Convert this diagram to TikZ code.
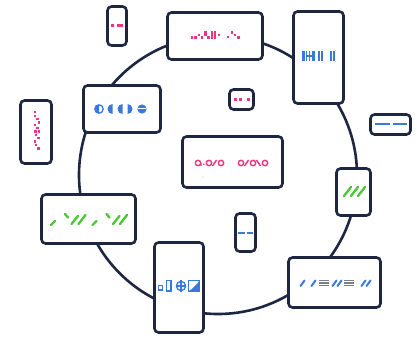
\documentclass[tikz,border=0pt]{standalone}
\usepackage{tikz}
\definecolor{navy}{RGB}{30,38,66}
\definecolor{pinkc}{RGB}{236,52,128}
\definecolor{bluec}{RGB}{58,120,220}
\definecolor{greenc}{RGB}{78,200,58}
\definecolor{grayc}{RGB}{120,126,136}
\begin{document}
\begin{tikzpicture}[x=1pt,y=-1pt,
  box/.style={draw=navy,line width=2.6pt,rounded corners=4pt,fill=white,inner sep=0pt},
  ringst/.style={circle,draw=navy,line width=2.6pt,inner sep=0pt,minimum size=278pt},
  pdot/.style={fill=pinkc},
  bstroke/.style={draw=bluec,line width=1.3pt},
  gslash/.style={draw=greenc,line width=2.4pt,line cap=round},
  bslash/.style={draw=bluec,line width=2pt,line cap=round},
  gbar/.style={draw=grayc,line width=1.1pt}]
\useasboundingbox (0,0) rectangle (417,339);
\fill[white] (0,0) rectangle (417,339);
% ring
\node[ringst] (ring) at (218,175) {};
% boxes
\node[box,minimum width=19pt,minimum height=39pt] (b1) at (117,26) {};
\node[box,minimum width=95pt,minimum height=47pt] (b2) at (215,36) {};
\node[box,minimum width=50pt,minimum height=92pt] (b3) at (318.5,57.5) {};
\node[box,minimum width=77pt,minimum height=47pt] (b4) at (122,109) {};
\node[box,minimum width=31pt,minimum height=63pt] (b5) at (36,132) {};
\node[box,minimum width=24pt,minimum height=20pt] (b6) at (241.5,99.5) {};
\node[box,minimum width=40pt,minimum height=20pt] (b7) at (390.5,124.5) {};
\node[box,minimum width=100pt,minimum height=51pt] (b8) at (232.5,162) {};
\node[box,minimum width=34pt,minimum height=47pt] (b9) at (353.5,192) {};
\node[box,minimum width=94pt,minimum height=49pt] (b10) at (88.5,219) {};
\node[box,minimum width=20pt,minimum height=38pt] (b11) at (245.5,232.5) {};
\node[box,minimum width=49pt,minimum height=90pt] (b12) at (179,287.5) {};
\node[box,minimum width=92pt,minimum height=50pt] (b13) at (334.5,282.5) {};
% glyphs b1
\fill[pdot] (111,24) rectangle (114,26.6);
\fill[pdot] (117,24) rectangle (123,26.6);
% glyphs b2 (dot pattern)
\foreach \x/\y in {192/37.5,195.5/37.5,199/35,202/37.5,205.5/32.5,205.5/35,208.5/37.5,212/32.5,212/35,212/37.5,215/32.5,215/35,215/37.5,219/35,228/37,232/32.5,235/35,238.5/37.5}
  \fill[pdot] (\x-1.3,\y-1.3) rectangle ++(2.6,2.6);
% glyphs b3 (blue bars)
\fill[bluec] (302,51) rectangle (305,61);
\fill[bluec] (306,51) rectangle (307.2,61);
\fill[bluec] (309,51) rectangle (310.2,61);
\draw[bluec,line width=1.2pt] (307,56) -- (312,56);
\fill[bluec] (312,51) rectangle (315,61);
\fill[bluec] (317.5,51) rectangle (319.5,61);
\fill[bluec] (320.7,51) rectangle (322.7,61);
\fill[bluec] (330,51) rectangle (331.7,61);
\fill[bluec] (333,51) rectangle (334.7,61);
% glyphs b4 (half circles)
\draw[bstroke] (99,109) circle (4.2);
\fill[bluec] (99,104.8) arc (270:90:4.2) -- cycle;
\fill[bluec] (112.5,104) arc (270:90:5) -- cycle;
\fill[bluec] (122.5,104) arc (270:90:5) -- cycle;
\fill[bluec] (127.5,104) arc (-90:90:5) -- cycle;
\fill[bluec] (142,109) circle (4.6);
\draw[white,line width=1pt] (137.8,109) -- (146.2,109);
% glyphs b5 (vertical dots)
\foreach \x/\y in {35/112,35/116,37.5/119,39/122.5,35/125,37.5/128,35.5/131.5,39/131.5,36/135,38.5/138,35/141.5,36/145,38.5/148.5}
  \fill[pdot] (\x-1.2,\y-1.2) rectangle ++(2.4,2.4);
% glyphs b6
\fill[pdot] (234,98.2) rectangle (237,100.8);
\fill[pdot] (238.5,98.2) rectangle (241.5,100.8);
\fill[pdot] (246.5,98.2) rectangle (249.5,100.8);
% glyphs b7
\fill[bluec] (375,122.8) rectangle (390,125.4);
\fill[bluec] (393,122.8) rectangle (407,125.4);
% glyphs b8
\begin{scope}[draw=pinkc,line width=1.4pt]
\draw (198,163) circle (2.7); \draw (200.7,163) -- (201.2,165.7);
\fill[pinkc] (203.8,164.5) circle (0.9);
\draw (209,163) circle (2.7);
\draw (212.5,166) -- (216.5,160);
\draw (221,163) circle (2.7);
\draw (241,163) circle (2.7);
\draw (244.5,166) -- (248.5,160);
\draw (253,163) circle (2.7);
\draw (256.5,160) -- (260.5,166);
\draw (265,163) circle (2.7);
\end{scope}
\fill[bluec!50] (203,177) circle (0.6);
% glyphs b9
\foreach \x in {344,351,358} \draw[gslash] (\x,196) -- (\x+7,187);
% glyphs b10
\foreach \s in {0,41.5}{
  \begin{scope}[xshift=\s]
  \draw[gslash] (51,225) -- (55,221);
  \draw[gslash] (65,214) -- (68,217.5);
  \draw[gslash] (71.5,224) -- (78,216);
  \draw[gslash] (78.5,224) -- (85.5,215);
  \end{scope}}
% glyphs b11
\fill[bluec] (238,231.8) rectangle (244.5,234.4);
\fill[bluec] (246.5,231.8) rectangle (253,234.4);
% glyphs b12
\draw[bstroke] (158.3,285.3) rectangle (162.5,290);
\draw[bluec,line width=1.6pt] (166.3,280.5) rectangle (170.8,291);
\draw[bstroke] (181,286) circle (4.6);
\draw[bstroke] (181,280) -- (181,292);
\draw[bstroke] (176.4,286) -- (185.6,286);
\draw[bstroke] (188.5,280.5) rectangle (199.5,291.5);
\fill[bluec] (199.5,280.5) -- (199.5,291.5) -- (188.5,291.5) -- cycle;
\draw[white,line width=0.9pt] (190.5,289.5) -- (197.5,282.5);
% glyphs b13
\draw[bslash] (300.5,286) -- (304.5,280.5);
\draw[bslash] (311.5,286) -- (315.5,280.5);
\foreach \y in {280.5,283,285.5} \draw[gbar] (319,\y) -- (329,\y);
\draw[bslash] (332.5,286) -- (336.5,280.5);
\draw[bslash] (337.5,286) -- (341.5,280.5);
\foreach \y in {280.5,283,285.5} \draw[gbar] (344,\y) -- (354,\y);
\draw[bslash] (361.5,286) -- (365.5,280.5);
\draw[bslash] (366.5,286) -- (370.5,280.5);
\end{tikzpicture}
\end{document}
